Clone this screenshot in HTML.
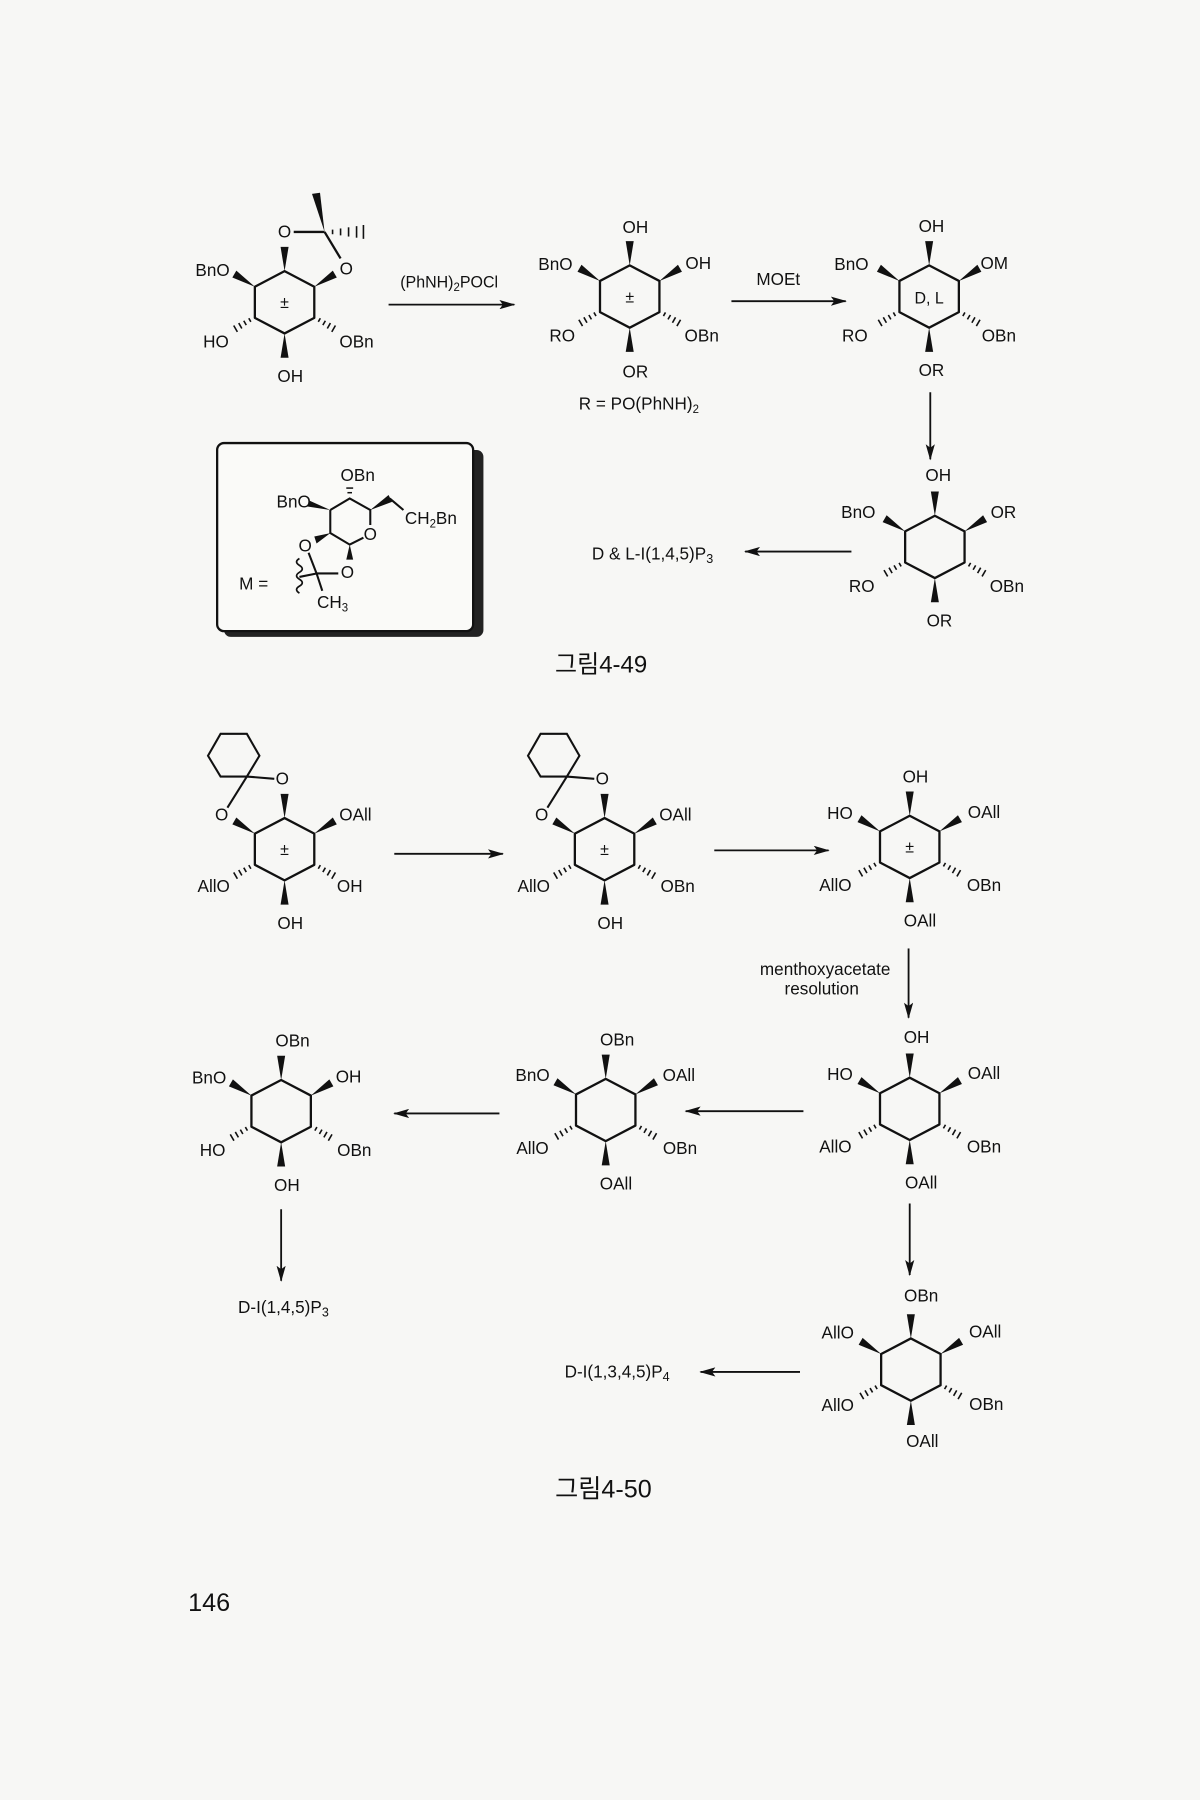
<!DOCTYPE html>
<html><head><meta charset="utf-8"><style>
html,body{margin:0;padding:0;background:#f7f7f5;}
svg{display:block}
text{font-family:"Liberation Sans","Noto Sans CJK KR",sans-serif;fill:#111;}
</style></head><body>
<svg width="1200" height="1800" viewBox="0 0 1050 1560" preserveAspectRatio="none" xmlns="http://www.w3.org/2000/svg">
<defs>
<g id="cy" stroke="#111" stroke-width="2" fill="none">
<polygon points="0,-27 26,-13.5 26,13.5 0,27 -26,13.5 -26,-13.5" stroke-linejoin="round"/>
<g fill="#111" stroke="none">
<polygon points="0,-27 -3.5,-48 3.5,-48"/>
<polygon points="0,27 -3.5,48 3.5,48"/>
<polygon points="-26,-13.5 -42.2,-27.5 -45.7,-21.5"/>
<polygon points="26,-13.5 42.2,-27.5 45.7,-21.5"/>
</g>
<g stroke-width="1.4">
<line x1="29.5" y1="16.9" x2="31.3" y2="13.8"/><line x1="33.5" y1="19.8" x2="35.7" y2="16"/><line x1="37.4" y1="22.7" x2="40.1" y2="18"/><line x1="41.3" y1="25.6" x2="44.5" y2="20.1"/>
<line x1="-29.5" y1="16.9" x2="-31.3" y2="13.8"/><line x1="-33.5" y1="19.8" x2="-35.7" y2="16"/><line x1="-37.4" y1="22.7" x2="-40.1" y2="18"/><line x1="-41.3" y1="25.6" x2="-44.5" y2="20.1"/>
</g>
</g>
<marker id="ar" viewBox="0 0 14 8" refX="13" refY="4" markerWidth="14" markerHeight="8" markerUnits="userSpaceOnUse" orient="auto">
<path d="M0,0 L14,4 L0,8 L3,4 Z" fill="#111"/>
</marker>
<g id="chx" stroke="#111" stroke-width="1.8" fill="none">
<polygon points="193,636 216,636 227,655 216,673 193,673 182,655"/>
<line x1="216" y1="673" x2="240" y2="675"/><line x1="216" y1="673" x2="199" y2="700"/>
</g>
</defs>
<g font-size="15" text-anchor="middle">
<!-- Compound 1 -->
<use href="#cy" x="249" y="262"/>
<text x="249" y="267" font-size="14">±</text>
<g stroke="#111" stroke-width="2" fill="none">
<line x1="257" y1="201" x2="284" y2="201"/><line x1="284" y1="201" x2="298" y2="224"/>
</g>
<polygon points="284,201 273,168 280,167" fill="#111"/>
<g stroke="#111" stroke-width="1.4"><line x1="291" y1="199" x2="291" y2="203"/><line x1="298" y1="198" x2="298" y2="204"/><line x1="305" y1="197" x2="305" y2="205"/><line x1="312" y1="196" x2="312" y2="206"/><line x1="318" y1="195" x2="318" y2="207"/></g>
<text x="249" y="206">O</text><text x="303" y="238">O</text>
<text x="186" y="239">BnO</text><text x="189" y="301">HO</text><text x="312" y="301">OBn</text><text x="254" y="331">OH</text>
<line x1="340" y1="264" x2="450" y2="264" stroke="#111" stroke-width="1.6" marker-end="url(#ar)"/>
<text x="393" y="249" font-size="14">(PhNH)<tspan font-size="10" dy="3">2</tspan><tspan dy="-3">POCl</tspan></text>
<!-- Compound 2 -->
<use href="#cy" x="551" y="257"/>
<text x="551" y="262" font-size="14">±</text>
<text x="556" y="202">OH</text><text x="611" y="233">OH</text><text x="486" y="234">BnO</text>
<text x="492" y="296">RO</text><text x="614" y="296">OBn</text><text x="556" y="327">OR</text>
<text x="559" y="355">R = PO(PhNH)<tspan font-size="10" dy="3">2</tspan></text>
<line x1="640" y1="261" x2="740" y2="261" stroke="#111" stroke-width="1.6" marker-end="url(#ar)"/>
<text x="681" y="247">MOEt</text>
<!-- Compound 3 -->
<use href="#cy" x="813" y="257"/>
<text x="813" y="263" font-size="14">D, L</text>
<text x="815" y="201">OH</text><text x="870" y="233">OM</text><text x="745" y="234">BnO</text>
<text x="748" y="296">RO</text><text x="874" y="296">OBn</text><text x="815" y="326">OR</text>
<line x1="814" y1="340" x2="814" y2="398" stroke="#111" stroke-width="1.6" marker-end="url(#ar)"/>
<!-- Compound 4 -->
<use href="#cy" x="818" y="474"/>
<text x="821" y="417">OH</text><text x="878" y="449">OR</text><text x="751" y="449">BnO</text>
<text x="754" y="513">RO</text><text x="881" y="513">OBn</text><text x="822" y="543">OR</text>
<line x1="745" y1="478" x2="652" y2="478" stroke="#111" stroke-width="1.6" marker-end="url(#ar)"/>
<text x="571" y="485">D &amp; L-I(1,4,5)P<tspan font-size="11" dy="3">3</tspan></text>
<!-- Box -->
<rect x="196" y="390" width="227" height="162" rx="6" fill="#222"/>
<rect x="190" y="384" width="224" height="163" rx="6" fill="#fafaf8" stroke="#111" stroke-width="2"/>
<g stroke="#111" stroke-width="1.8" fill="none">
<polyline points="289,442 306,432 324,442 324,455"/>
<polyline points="289,442 289,462 306,472 318,466"/>
<polyline points="341,432 353,442"/>
<line x1="270" y1="479" x2="277" y2="497"/>
<line x1="296" y1="497" x2="277" y2="497"/>
<line x1="277" y1="497" x2="262" y2="500"/>
<line x1="277" y1="497" x2="282" y2="512"/>
<path d="M262,484 q-5,3 0,6 q5,3 0,6 q-5,3 0,6 q5,3 0,6 q-5,3 0,6" stroke-width="1.5"/>
</g>
<g fill="#111"><polygon points="289,442 271,434 269,439"/><polygon points="324,442 340,429 343,435"/><polygon points="306,472 303,485 309,485"/><polygon points="289,462 275,465 277,471"/></g>
<g stroke="#111" stroke-width="1.3"><line x1="304" y1="427" x2="308" y2="427"/><line x1="303" y1="423" x2="309" y2="423"/></g>
<text x="313" y="417">OBn</text><text x="257" y="440">BnO</text><text x="377" y="454">CH<tspan font-size="10" dy="3">2</tspan><tspan dy="-3">Bn</tspan></text>
<text x="222" y="511">M =</text><text x="267" y="478">O</text><text x="324" y="468">O</text><text x="304" y="501">O</text>
<text x="291" y="527">CH<tspan font-size="10" dy="3">3</tspan></text>
<text x="526" y="583" font-size="21">그림4-49</text>

<!-- Scheme 2 -->
<use href="#cy" x="249" y="736"/><text x="249" y="741" font-size="14">±</text>
<use href="#chx"/>
<text x="247" y="680">O</text><text x="194" y="711">O</text>
<text x="311" y="711">OAll</text><text x="187" y="773">AllO</text><text x="306" y="773">OH</text><text x="254" y="805">OH</text>
<line x1="345" y1="740" x2="440" y2="740" stroke="#111" stroke-width="1.6" marker-end="url(#ar)"/>

<use href="#cy" x="529" y="736"/><text x="529" y="741" font-size="14">±</text>
<use href="#chx" x="280"/>
<text x="527" y="680">O</text><text x="474" y="711">O</text>
<text x="591" y="711">OAll</text><text x="467" y="773">AllO</text><text x="593" y="773">OBn</text><text x="534" y="805">OH</text>
<line x1="625" y1="737" x2="725" y2="737" stroke="#111" stroke-width="1.6" marker-end="url(#ar)"/>

<use href="#cy" x="796" y="734"/><text x="796" y="739" font-size="14">±</text>
<text x="801" y="678">OH</text><text x="735" y="710">HO</text><text x="861" y="709">OAll</text>
<text x="731" y="772">AllO</text><text x="861" y="772">OBn</text><text x="805" y="803">OAll</text>
<line x1="795" y1="822" x2="795" y2="882" stroke="#111" stroke-width="1.6" marker-end="url(#ar)"/>
<text x="722" y="845">menthoxyacetate</text><text x="719" y="862">resolution</text>

<use href="#cy" x="796" y="961"/>
<text x="802" y="904">OH</text><text x="735" y="936">HO</text><text x="861" y="935">OAll</text>
<text x="731" y="999">AllO</text><text x="861" y="999">OBn</text><text x="806" y="1030">OAll</text>
<line x1="703" y1="963" x2="600" y2="963" stroke="#111" stroke-width="1.6" marker-end="url(#ar)"/>

<use href="#cy" x="530" y="962"/>
<text x="540" y="906">OBn</text><text x="466" y="937">BnO</text><text x="594" y="937">OAll</text>
<text x="466" y="1000">AllO</text><text x="595" y="1000">OBn</text><text x="539" y="1031">OAll</text>
<line x1="437" y1="965" x2="345" y2="965" stroke="#111" stroke-width="1.6" marker-end="url(#ar)"/>

<use href="#cy" x="246" y="963"/>
<text x="256" y="907">OBn</text><text x="183" y="939">BnO</text><text x="305" y="938">OH</text>
<text x="186" y="1002">HO</text><text x="310" y="1002">OBn</text><text x="251" y="1032">OH</text>
<line x1="246" y1="1048" x2="246" y2="1110" stroke="#111" stroke-width="1.6" marker-end="url(#ar)"/>
<text x="248" y="1138">D-I(1,4,5)P<tspan font-size="11" dy="3">3</tspan></text>

<line x1="796" y1="1043" x2="796" y2="1105" stroke="#111" stroke-width="1.6" marker-end="url(#ar)"/>
<use href="#cy" x="797" y="1187"/>
<text x="806" y="1128">OBn</text><text x="733" y="1160">AllO</text><text x="862" y="1159">OAll</text>
<text x="733" y="1223">AllO</text><text x="863" y="1222">OBn</text><text x="807" y="1254">OAll</text>
<line x1="700" y1="1189" x2="613" y2="1189" stroke="#111" stroke-width="1.6" marker-end="url(#ar)"/>
<text x="540" y="1194">D-I(1,3,4,5)P<tspan font-size="11" dy="3">4</tspan></text>

<text x="528" y="1298" font-size="22">그림4-50</text>
<text x="183" y="1396" font-size="22" font-family="Liberation Serif, serif">146</text>
</g>
</svg>
</body></html>
